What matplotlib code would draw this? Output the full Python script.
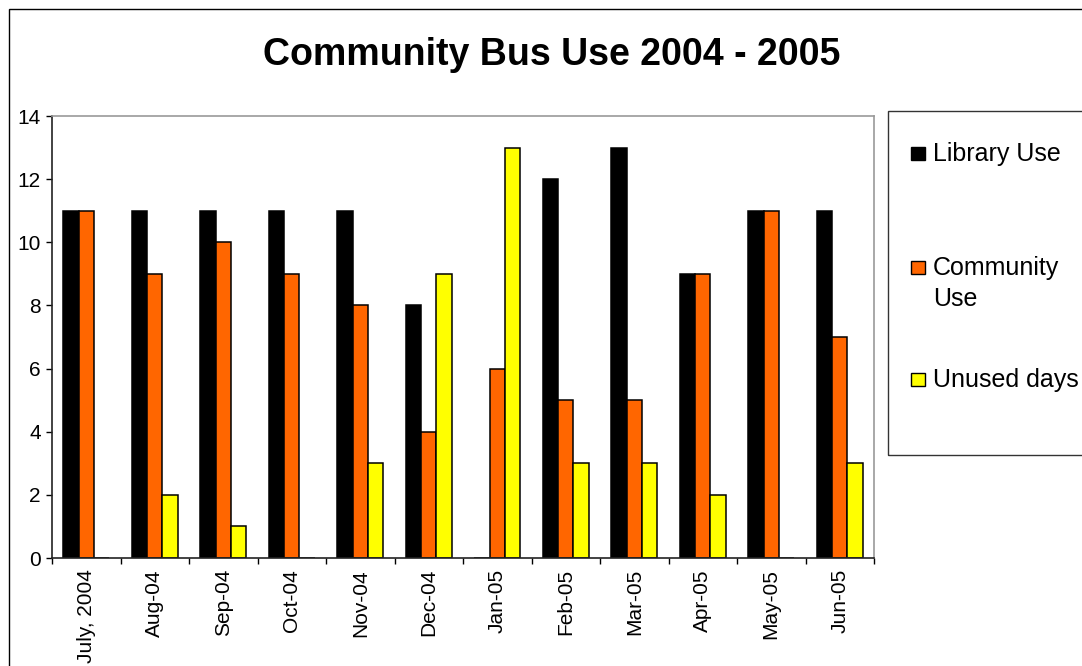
import numpy as np
import matplotlib.pyplot as plt
from matplotlib.patches import Rectangle

plt.rcParams['font.family'] = ['Liberation Sans', 'DejaVu Sans']

months = ['July, 2004', 'Aug-04', 'Sep-04', 'Oct-04', 'Nov-04', 'Dec-04',
          'Jan-05', 'Feb-05', 'Mar-05', 'Apr-05', 'May-05', 'Jun-05']
library_use = [11, 11, 11, 11, 11, 8, 0, 12, 13, 9, 11, 11]
community_use = [11, 9, 10, 9, 8, 4, 6, 5, 5, 9, 11, 7]
unused_days = [0, 2, 1, 0, 3, 9, 13, 3, 3, 2, 0, 3]

series = [('Library Use', library_use, '#000000'),
          ('Community\nUse', community_use, '#FF6600'),
          ('Unused days', unused_days, '#FFFF00')]

W, H = 1082, 666
fig = plt.figure(figsize=(W / 100, H / 100), dpi=100)
ax = fig.add_axes([52 / W, 1 - 558 / H, (874 - 52) / W, (558 - 116) / H])

x = np.arange(len(months))
bw = 0.225
for i, (name, vals, col) in enumerate(series):
    ax.bar(x + (i - 1) * bw, vals, bw, color=col, edgecolor='black', linewidth=1.1)

ax.set_xlim(-0.5, len(months) - 0.5)
ax.set_ylim(0, 14)
ax.set_yticks(range(0, 15, 2))
ax.tick_params(axis='y', labelsize=15, length=4, width=1, pad=4)
ax.set_xticks(x)
ax.set_xticklabels(months, rotation=90, fontsize=15)
ax.tick_params(axis='x', which='major', length=0, pad=8)
ax.set_xticks(np.arange(-0.5, len(months)), minor=True)
ax.tick_params(axis='x', which='minor', length=4, width=1)

for s in ['top', 'right']:
    ax.spines[s].set_color('#999999')
    ax.spines[s].set_linewidth(1.2)
for s in ['left', 'bottom']:
    ax.spines[s].set_color('#222222')
    ax.spines[s].set_linewidth(1.2)

fig.text(552 / W, 1 - 55 / H, 'Community Bus Use 2004 - 2005', ha='center', va='center',
         fontsize=27, fontweight='bold')

# outer chart border (cut off at right and bottom)
fig.patches.append(Rectangle((9 / W, -0.1), 2, 1.1 - 9 / H, transform=fig.transFigure,
                             fill=False, edgecolor='black', linewidth=1))

# legend box
fig.patches.append(Rectangle((888 / W, 1 - 455 / H), 1, (455 - 111) / H,
                             transform=fig.transFigure, fill=False,
                             edgecolor='#333333', linewidth=1))
tops = [142, 256, 368]
for (name, vals, col), t in zip(series, tops):
    fig.patches.append(Rectangle((911 / W, 1 - (t + 18) / H), 14 / W, 13 / H,
                                 transform=fig.transFigure, facecolor=col,
                                 edgecolor='black', linewidth=1))
    fig.text(933 / W, 1 - t / H, name, ha='left', va='top', fontsize=18,
             linespacing=1.35)

fig.savefig('out.png', dpi=100)
